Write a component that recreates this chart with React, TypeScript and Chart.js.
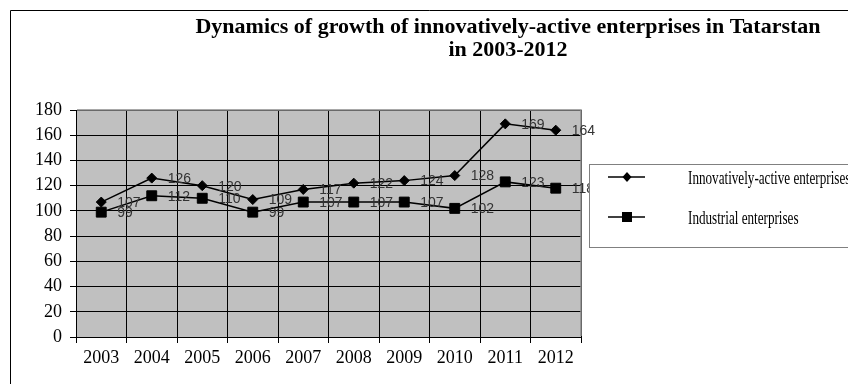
import React, { useEffect, useRef } from "react";
import { Chart, registerables } from "chart.js";

Chart.register(...registerables);

const years = ["2003", "2004", "2005", "2006", "2007", "2008", "2009", "2010", "2011", "2012"];
const innovative = [107, 126, 120, 109, 117, 122, 124, 128, 169, 164];
const industrial = [99, 112, 110, 99, 107, 107, 107, 102, 123, 118];
const seriesNames = ["Innovatively-active enterprises", "Industrial enterprises"];
const titleLines = [
  "Dynamics of growth of innovatively-active enterprises in Tatarstan",
  "in 2003-2012",
];
const yMin = 0;
const yMax = 180;
const yStep = 20;

const W = 848;
const H = 384;

function drawMarker(ctx: CanvasRenderingContext2D, style: string, x: number, y: number) {
  ctx.beginPath();
  if (style === "rectRot") {
    ctx.moveTo(x, y - 5);
    ctx.lineTo(x + 4.5, y);
    ctx.lineTo(x, y + 5);
    ctx.lineTo(x - 4.5, y);
    ctx.closePath();
  } else {
    ctx.rect(x - 5, y - 5, 10, 10);
  }
  ctx.fill();
}

const decorPlugin = {
  id: "decor",
  beforeDraw(chart: any) {
    const { ctx, chartArea: a } = chart;
    ctx.save();
    ctx.fillStyle = "#ffffff";
    ctx.fillRect(0, 0, chart.width, chart.height);
    ctx.fillStyle = "#c0c0c0";
    ctx.fillRect(a.left, a.top, a.right - a.left, a.bottom - a.top);
    // outer frame
    ctx.strokeStyle = "#000";
    ctx.lineWidth = 1;
    ctx.beginPath();
    ctx.moveTo(10.5, chart.height + 5);
    ctx.lineTo(10.5, 10.5);
    ctx.lineTo(chart.width + 5, 10.5);
    ctx.stroke();
    // title
    ctx.fillStyle = "#000";
    ctx.font = "bold 22px 'Liberation Serif'";
    ctx.textAlign = "center";
    ctx.textBaseline = "alphabetic";
    ctx.fillText(titleLines[0], 508, 33);
    ctx.fillText(titleLines[1], 508, 56);
    ctx.restore();
  },
  beforeDatasetsDraw(chart: any) {
    const { ctx, chartArea: a } = chart;
    ctx.save();
    ctx.strokeStyle = "#8c8c8c";
    ctx.lineWidth = 1.5;
    ctx.beginPath();
    ctx.moveTo(a.left + 1, a.top);
    ctx.lineTo(a.right, a.top);
    ctx.lineTo(a.right, a.bottom - 1);
    ctx.stroke();
    ctx.restore();
  },
  afterDatasetsDraw(chart: any) {
    const { ctx } = chart;
    ctx.save();
    // data labels
    ctx.font = "14px 'Liberation Sans'";
    ctx.fillStyle = "#333";
    ctx.textAlign = "left";
    ctx.textBaseline = "middle";
    chart.data.datasets.forEach((ds: any, i: number) => {
      const meta = chart.getDatasetMeta(i);
      meta.data.forEach((pt: any, j: number) => {
        ctx.fillText(String(ds.data[j]), pt.x + 16, pt.y + 1);
      });
    });
    // legend
    const bx = 589.5, by = 164.5;
    ctx.strokeStyle = "#808080";
    ctx.lineWidth = 1;
    ctx.fillStyle = "#fff";
    ctx.fillRect(bx, by, 300, 83);
    ctx.strokeRect(bx, by, 300, 83);
    const rows = [177, 217];
    chart.data.datasets.forEach((ds: any, i: number) => {
      const y = rows[i];
      ctx.strokeStyle = "#000";
      ctx.lineWidth = 1.5;
      ctx.beginPath();
      ctx.moveTo(608, y);
      ctx.lineTo(645, y);
      ctx.stroke();
      ctx.fillStyle = "#000";
      drawMarker(ctx, ds.pointStyle, 627, y);
      ctx.save();
      ctx.translate(688, y + 7);
      ctx.scale(0.73, 1);
      ctx.font = "18px 'Liberation Serif'";
      ctx.textAlign = "left";
      ctx.textBaseline = "alphabetic";
      ctx.fillText(ds.label, 0, 0);
      ctx.restore();
    });
    ctx.restore();
  },
};

export default function App() {
  const ref = useRef<HTMLCanvasElement | null>(null);
  useEffect(() => {
    if (!ref.current) return;
    const chart = new Chart(ref.current, {
      type: "line",
      data: {
        labels: years,
        datasets: [
          {
            label: seriesNames[0],
            data: innovative,
            borderColor: "#000",
            backgroundColor: "#000",
            borderWidth: 1.5,
            pointStyle: "rectRot",
            pointRadius: 5,
            pointBackgroundColor: "#000",
            pointBorderColor: "#000",
            pointBorderWidth: 1,
            tension: 0,
          },
          {
            label: seriesNames[1],
            data: industrial,
            borderColor: "#000",
            backgroundColor: "#000",
            borderWidth: 1.5,
            pointStyle: "rect",
            pointRadius: 7,
            pointBackgroundColor: "#000",
            pointBorderColor: "#000",
            pointBorderWidth: 1,
            tension: 0,
          },
        ],
      },
      options: {
        responsive: false,
        animation: false,
        events: [],
        layout: { padding: { left: 0, top: 110, right: W - 581, bottom: 0 } },
        plugins: {
          legend: { display: false },
          title: { display: false },
          tooltip: { enabled: false },
        },
        scales: {
          x: {
            type: "category",
            offset: true,
            grid: {
              offset: true,
              color: "#000",
              lineWidth: 1,
              drawTicks: true,
              tickLength: 6,
            },
            border: { color: "#000", width: 1 },
            ticks: {
              color: "#000",
              font: { family: "'Liberation Serif'", size: 18 },
              padding: 4,
              maxRotation: 0,
              autoSkip: false,
            },
            afterFit(scale: any) {
              scale.height = H - 337;
            },
          },
          y: {
            min: yMin,
            max: yMax,
            grid: { color: "#000", lineWidth: 1, tickLength: 6 },
            border: { color: "#000", width: 1 },
            ticks: {
              stepSize: yStep,
              color: "#000",
              font: { family: "'Liberation Serif'", size: 18 },
              padding: 8,
            },
            afterFit(scale: any) {
              scale.width = 76;
            },
          },
        },
      },
      plugins: [decorPlugin],
    } as any);
    return () => chart.destroy();
  }, []);
  return (
    <div style={{ position: "fixed", left: 0, top: 0, width: W, height: H }}>
      <canvas ref={ref} width={W} height={H} style={{ width: W, height: H, display: "block" }} />
    </div>
  );
}
